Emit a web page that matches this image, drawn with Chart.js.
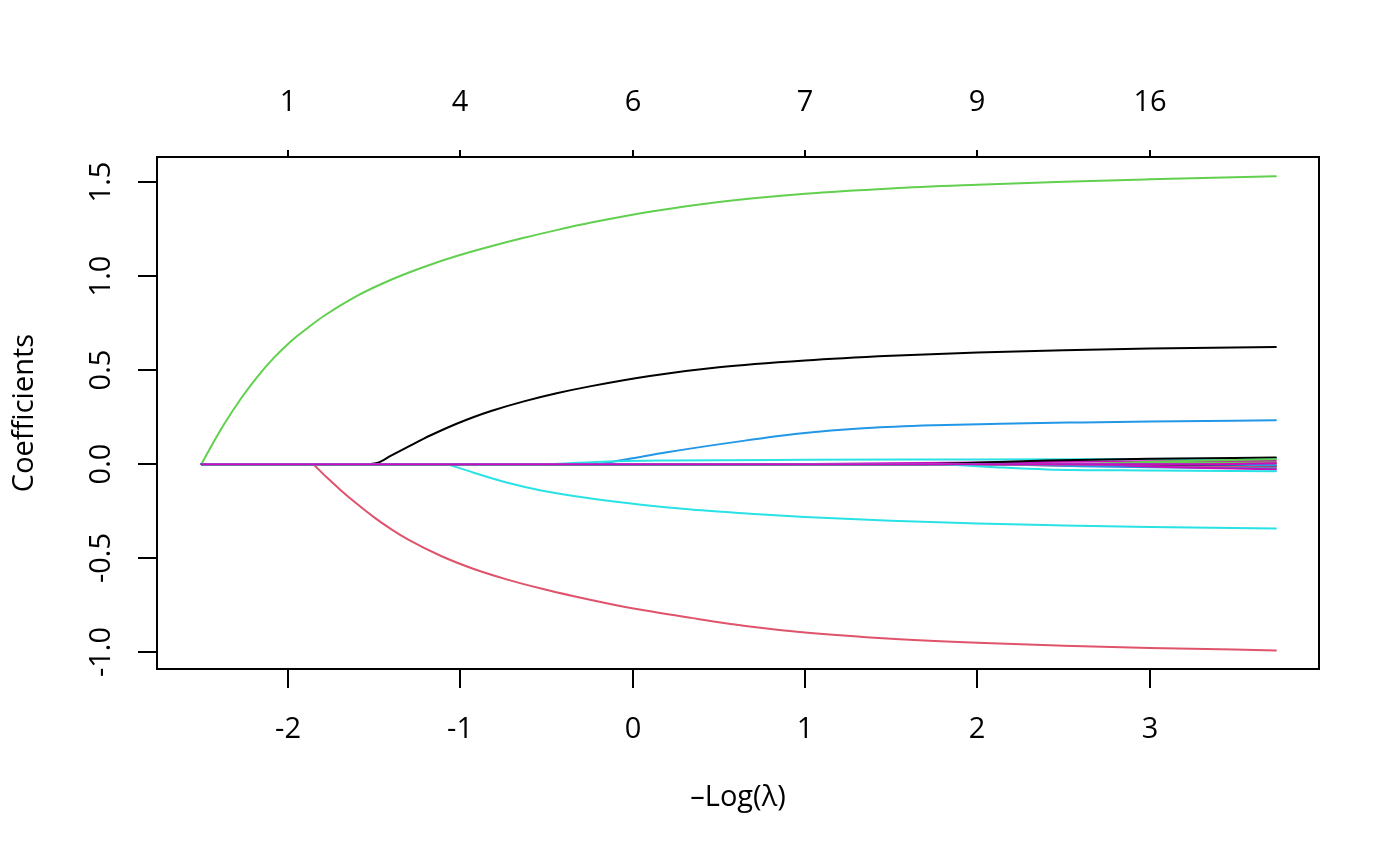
<!DOCTYPE html>
<html>
<head>
<meta charset="utf-8">
<script src="https://cdn.jsdelivr.net/npm/chart.js@4.4.1/dist/chart.umd.min.js"></script>
<style>
  html, body { margin: 0; padding: 0; background: #fff; }
  canvas { display: block; }
</style>
</head>
<body>
<canvas id="coefChart" width="1400" height="865"></canvas>
<script>
const xTicks = [-2, -1, 0, 1, 2, 3];
const xTickLabels = ["-2", "-1", "0", "1", "2", "3"];
const yTicks = [-1, -0.5, 0, 0.5, 1, 1.5];
const yTickLabels = ["-1.0", "-0.5", "0.0", "0.5", "1.0", "1.5"];
const dfLabels = ["1", "4", "6", "7", "9", "16"];
const lineColors = ["#000000", "#DF536B", "#61D04F", "#2297E6", "#28E2E5", "#CD0BBC"];

// coefficient paths: [-log(lambda), coefficient]
const v1 = [[-2.5, 0], [-1.54, 0], [-1.48, 0.007], [-1.4, 0.046], [-1.3, 0.094], [-1.21, 0.137], [-1.11, 0.18], [-1.02, 0.216], [-0.92, 0.252], [-0.82, 0.284], [-0.63, 0.335], [-0.44, 0.378], [-0.24, 0.416], [0.1, 0.47], [0.5, 0.516], [1.0, 0.552], [1.5, 0.577], [2.0, 0.595], [2.5, 0.607], [3.0, 0.616], [3.73, 0.624]];
const v2 = [[-2.5, 0], [-1.85, 0], [-1.77, -0.072], [-1.69, -0.139], [-1.6, -0.209], [-1.5, -0.281], [-1.4, -0.345], [-1.3, -0.401], [-1.11, -0.488], [-0.92, -0.557], [-0.73, -0.612], [-0.53, -0.661], [-0.34, -0.702], [-0.15, -0.739], [0.05, -0.774], [0.34, -0.817], [0.68, -0.863], [1.0, -0.895], [1.5, -0.928], [2.0, -0.95], [2.5, -0.965], [3.0, -0.977], [3.73, -0.99]];
const v3 = [[-2.5, 0], [-2.44, 0.1], [-2.37, 0.21], [-2.27, 0.35], [-2.18, 0.46], [-2.08, 0.566], [-1.98, 0.655], [-1.88, 0.728], [-1.79, 0.789], [-1.6, 0.895], [-1.4, 0.982], [-1.21, 1.05], [-1.02, 1.108], [-0.82, 1.16], [-0.63, 1.205], [-0.44, 1.246], [-0.24, 1.286], [0.1, 1.344], [0.5, 1.396], [1.0, 1.44], [1.5, 1.468], [2.0, 1.487], [2.5, 1.503], [3.0, 1.516], [3.73, 1.533]];
const v4 = [[-2.5, 0], [-0.2, 0], [0.0, 0.032], [0.2, 0.064], [0.59, 0.118], [0.97, 0.164], [1.36, 0.193], [1.75, 0.208], [2.13, 0.216], [2.6, 0.223], [3.0, 0.228], [3.73, 0.234]];
const v5 = [[-2.5, 0], [-1.07, 0], [-0.92, -0.045], [-0.73, -0.097], [-0.53, -0.139], [-0.24, -0.182], [0.05, -0.215], [0.34, -0.241], [0.68, -0.263], [1.0, -0.28], [1.5, -0.3], [2.0, -0.315], [2.5, -0.325], [3.0, -0.333], [3.73, -0.341]];
const v6 = [[-2.5, 0], [0.9, 0], [1.5, 0.005], [2.0, 0.009], [2.5, 0.013], [3.0, 0.016], [3.73, 0.018]];
const v7 = [[-2.5, 0], [2.4, 0], [3.0, -0.005], [3.73, -0.009]];
const v8 = [[-2.5, 0], [2.05, 0], [2.5, -0.007], [3.0, -0.012], [3.73, -0.016]];
const v9 = [[-2.5, 0], [2.5, 0], [3.0, 0.005], [3.73, 0.009]];
const v10 = [[-2.5, 0], [2.2, 0], [2.6, -0.01], [3.0, -0.016], [3.73, -0.022]];
const v11 = [[-2.5, 0], [-0.5, 0], [-0.17, 0.014], [0.2, 0.02], [1.0, 0.024], [2.0, 0.026], [3.0, 0.028], [3.73, 0.03]];
const v12 = [[-2.5, 0], [2.7, 0], [3.0, -0.012], [3.73, -0.027]];
const v13 = [[-2.5, 0], [1.7, 0], [2.4, 0.02], [3.0, 0.03], [3.73, 0.036]];
const v14 = [[-2.5, 0], [2.9, 0], [3.73, 0.003]];
const v15 = [[-2.5, 0], [2.6, 0], [3.0, 0.014], [3.73, 0.027]];
const v16 = [[-2.5, 0], [3.2, 0], [3.73, -0.005]];
const v17 = [[-2.5, 0], [1.8, 0], [2.1, -0.015], [2.4, -0.027], [3.0, -0.033], [3.73, -0.037]];
const v18 = [[-2.5, 0], [3.4, 0], [3.73, 0.005]];

const paths = [v1, v2, v3, v4, v5, v6, v7, v8, v9, v10, v11, v12, v13, v14, v15, v16, v17, v18];

const FONT = '29px "Open Sans", "Noto Sans", sans-serif';

// break the line where a variable enters, so the smoothing keeps the kink
function toPoints(p) {
  let k = 0;
  while (k + 1 < p.length && p[k + 1][1] === 0) k++;
  const pts = p.map(([x, y]) => ({ x, y }));
  if (k === 0) return pts;
  return [...pts.slice(0, k + 1), { x: p[k][0], y: null }, ...pts.slice(k)];
}

// box, ticks and labels drawn the base-graphics way
const rAxes = {
  id: "rAxes",
  afterDraw(chart) {
    const { ctx, chartArea: a, scales: { x, y } } = chart;
    ctx.save();
    ctx.strokeStyle = "#000";
    ctx.fillStyle = "#000";
    ctx.lineWidth = 2;
    ctx.strokeRect(a.left, a.top, a.right - a.left, a.bottom - a.top);

    ctx.font = FONT;
    ctx.textAlign = "center";
    ctx.textBaseline = "alphabetic";

    xTicks.forEach((v, i) => {
      const px = Math.round(x.getPixelForValue(v));
      ctx.beginPath();
      ctx.moveTo(px, a.bottom);
      ctx.lineTo(px, a.bottom + 19);
      ctx.moveTo(px, a.top);
      ctx.lineTo(px, a.top - 7);
      ctx.stroke();
      ctx.fillText(xTickLabels[i], px, 738);
      ctx.fillText(dfLabels[i], px, 111);
    });

    yTicks.forEach((v, i) => {
      const py = Math.round(y.getPixelForValue(v));
      ctx.beginPath();
      ctx.moveTo(a.left, py);
      ctx.lineTo(a.left - 19, py);
      ctx.stroke();
      ctx.save();
      ctx.translate(110, py);
      ctx.rotate(-Math.PI / 2);
      ctx.fillText(yTickLabels[i], 0, 0);
      ctx.restore();
    });

    ctx.fillText("\u2013Log(\u03BB)", (a.left + a.right) / 2, 806);

    ctx.save();
    ctx.translate(33, (a.top + a.bottom) / 2);
    ctx.rotate(-Math.PI / 2);
    ctx.fillText("Coefficients", 0, 0);
    ctx.restore();

    ctx.restore();
  }
};

new Chart(document.getElementById("coefChart"), {
  type: "scatter",
  data: {
    datasets: paths.map((p, i) => ({
      data: toPoints(p),
      showLine: true,
      borderColor: lineColors[i % lineColors.length],
      borderWidth: 2,
      borderCapStyle: "round",
      pointRadius: 0,
      cubicInterpolationMode: "monotone",
      order: paths.length - i
    }))
  },
  options: {
    responsive: false,
    devicePixelRatio: 1,
    animation: false,
    layout: { padding: { left: 157, right: 81, top: 157, bottom: 196 } },
    plugins: { legend: { display: false }, tooltip: { enabled: false } },
    scales: {
      x: { type: "linear", min: -2.757, max: 3.98, display: false },
      y: { type: "linear", min: -1.089, max: 1.635, display: false }
    }
  },
  plugins: [rAxes]
});
</script>
</body>
</html>
